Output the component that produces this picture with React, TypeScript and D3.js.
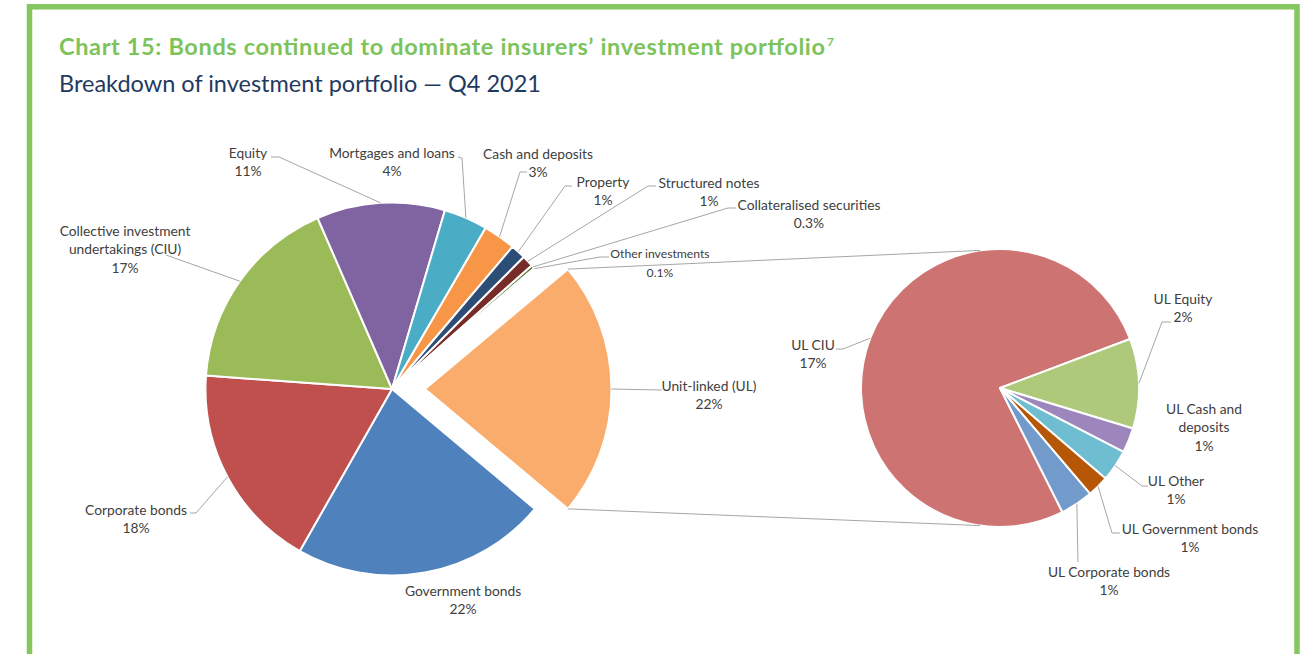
import * as d3 from 'd3';
import { useRef, useEffect } from 'react';

// Main pie, clockwise from the split-off slice
const mainCategories = [
  'Unit-linked (UL)',
  'Government bonds',
  'Corporate bonds',
  'Collective investment undertakings (CIU)',
  'Equity',
  'Mortgages and loans',
  'Cash and deposits',
  'Property',
  'Structured notes',
  'Collateralised securities',
  'Other investments',
];
const mainValues = [22.2, 22.1, 17.9, 17.3, 11.1, 3.8, 2.8, 1.3, 1.0, 0.3, 0.1];
const mainColors = [
  '#F9AC6B', '#4F81BD', '#C0504D', '#9BBB59', '#8064A2', '#4BACC6',
  '#F79646', '#2C4D75', '#772C2A', '#5F7530', '#4D3B62',
];

// Second pie: breakdown of unit-linked (share of total portfolio)
const ulCategories = [
  'UL CIU',
  'UL Equity',
  'UL Cash and deposits',
  'UL Other',
  'UL Government bonds',
  'UL Corporate bonds',
];
const ulValues = [16.9, 2.3, 0.64, 0.81, 0.55, 0.84];
const ulColors = ['#CD7371', '#AFC97A', '#9D86BC', '#6FBDD1', '#B65708', '#729ACA'];

const title = 'Chart 15: Bonds continued to dominate insurers\u2019 investment portfolio';
const subtitle = 'Breakdown of investment portfolio \u2014 Q4 2021';

// label placement: centre of first line, optional leader points (label side)
const labelLayout = {
  'Unit-linked (UL)': { x: 709, y: 386, leader: [[662, 390]] },
  'Government bonds': { x: 463, y: 591 },
  'Corporate bonds': { x: 136, y: 510, leader: [[190, 513], [196, 513]] },
  'Collective investment undertakings (CIU)': {
    x: 125, y: 231, lines: ['Collective investment', 'undertakings (CIU)'], leader: [[166, 255]],
  },
  'Equity': { x: 248, y: 153, leader: [[271, 157], [279, 157]] },
  'Mortgages and loans': { x: 392, y: 153, leader: [[458, 157], [462, 158]] },
  'Cash and deposits': { x: 538, y: 154, leader: [[527, 172], [520, 172]] },
  'Property': { x: 603, y: 182, leader: [[572, 186], [565, 186]] },
  'Structured notes': { x: 709, y: 183, leader: [[656, 186], [648, 186]] },
  'Collateralised securities': { x: 809, y: 205, leader: [[736, 208], [728, 208]] },
  'Other investments': { x: 660, y: 254, size: 12.2, leader: [[609, 257], [600, 257]] },
  'UL CIU': { x: 813, y: 345, leader: [[836, 349], [843, 349]], anchorDeg: 291 },
  'UL Equity': { x: 1183, y: 299, leader: [[1171, 322], [1162, 322]] },
  'UL Cash and deposits': { x: 1204, y: 409, lines: ['UL Cash and', 'deposits'] },
  'UL Other': { x: 1176, y: 481, leader: [[1148, 486], [1142, 486]] },
  'UL Government bonds': { x: 1190, y: 529, leader: [[1120, 533], [1112, 533]] },
  'UL Corporate bonds': { x: 1109, y: 572, leader: [[1078, 562]] },
};

const fmt = (v: number) => (v < 0.5 ? v.toFixed(1) : String(Math.round(v))) + '%';

function PieOfPie({ width = 1316, height = 654 }) {
  const svgRef = useRef<SVGSVGElement>(null);

  useEffect(() => {
    const svg = d3.select(svgRef.current).attr('width', width).attr('height', height);
    svg.selectAll('*').remove();

    const font = 'Lato, "Noto Sans", sans-serif';
    const textColor = '#404040';
    const leaderColor = '#A6A6A6';

    // frame
    svg.append('rect')
      .attr('x', 29.5).attr('y', 6.8)
      .attr('width', 1267.5).attr('height', 700)
      .attr('fill', 'none')
      .attr('stroke', '#86C65F')
      .attr('stroke-width', 5.5);

    svg.append('text')
      .attr('x', 59).attr('y', 55)
      .attr('font-family', font)
      .attr('font-weight', 700)
      .attr('font-size', 23.5)
      .attr('fill', '#7DC35B')
      .attr('textLength', 766)
      .attr('lengthAdjust', 'spacing')
      .text(title);
    svg.append('text')
      .attr('x', 827).attr('y', 46)
      .attr('font-family', font)
      .attr('font-weight', 700)
      .attr('font-size', 12)
      .attr('fill', '#7DC35B')
      .text('7');

    svg.append('text')
      .attr('x', 59).attr('y', 92)
      .attr('font-family', font)
      .attr('font-size', 23.5)
      .attr('fill', '#1F3A60')
      .text(subtitle);

    // ---- main pie
    const mainC = { x: 392, y: 389 };
    const mainR = 186.5;
    const explode = 33;
    const total = d3.sum(mainValues);
    const ulSpan = (mainValues[0] / total) * 2 * Math.PI;
    const start = Math.PI / 2 - ulSpan / 2;

    const mainPie = d3.pie<number>().sort(null).startAngle(start).endAngle(start + 2 * Math.PI);
    const mainArcs = mainPie(mainValues);
    const arc = d3.arc<d3.PieArcDatum<number>>().innerRadius(0).outerRadius(mainR);

    const offsetOf = (i: number) => {
      if (i !== 0) return [0, 0];
      const a = (mainArcs[0].startAngle + mainArcs[0].endAngle) / 2;
      return [explode * Math.sin(a), -explode * Math.cos(a)];
    };

    const gMain = svg.append('g').attr('transform', `translate(${mainC.x},${mainC.y})`);
    gMain.selectAll('path')
      .data(mainArcs)
      .enter()
      .append('path')
      .attr('transform', (d, i) => `translate(${offsetOf(i)[0]},${offsetOf(i)[1]})`)
      .attr('d', arc)
      .attr('fill', (d, i) => mainColors[i])
      .attr('stroke', '#fff')
      .attr('stroke-width', 2)
      .attr('stroke-linejoin', 'round');

    // ---- second pie
    const ulC = { x: 1000, y: 388 };
    const ulR = 139;
    const ulStart = (153.3 * Math.PI) / 180;
    const ulPie = d3.pie<number>().sort(null).startAngle(ulStart).endAngle(ulStart + 2 * Math.PI);
    const ulArcs = ulPie(ulValues);
    const ulArc = d3.arc<d3.PieArcDatum<number>>().innerRadius(0).outerRadius(ulR);

    const gUl = svg.append('g').attr('transform', `translate(${ulC.x},${ulC.y})`);
    gUl.selectAll('path')
      .data(ulArcs)
      .enter()
      .append('path')
      .attr('d', ulArc)
      .attr('fill', (d, i) => ulColors[i])
      .attr('stroke', '#fff')
      .attr('stroke-width', 2)
      .attr('stroke-linejoin', 'round');

    // ---- connector lines from split slice corners to the second pie
    const off = offsetOf(0);
    const corner = (a: number) => [
      mainC.x + off[0] + mainR * Math.sin(a),
      mainC.y + off[1] - mainR * Math.cos(a),
    ];
    const onUl = (deg: number) => {
      const a = (deg * Math.PI) / 180;
      return [ulC.x + ulR * Math.sin(a), ulC.y - ulR * Math.cos(a)];
    };
    const connectorDeg = 8.2;
    [
      [corner(mainArcs[0].startAngle), onUl(-connectorDeg)],
      [corner(mainArcs[0].endAngle), onUl(180 + connectorDeg)],
    ].forEach((seg) => {
      svg.append('line')
        .attr('x1', seg[0][0]).attr('y1', seg[0][1])
        .attr('x2', seg[1][0]).attr('y2', seg[1][1])
        .attr('stroke', leaderColor)
        .attr('stroke-width', 1);
    });

    // ---- labels
    const drawLabel = (name: string, value: number, arcD: d3.PieArcDatum<number>, c: { x: number, y: number }, r: number, o: number[]) => {
      const lay = labelLayout[name];
      const size = lay.size || 13.8;
      const lines = (lay.lines || [name]).concat([fmt(value)]);
      const g = svg.append('text')
        .attr('font-family', font)
        .attr('font-size', size)
        .attr('fill', textColor)
        .attr('text-anchor', 'middle');
      lines.forEach((ln, k) => {
        g.append('tspan')
          .attr('x', lay.x)
          .attr('y', lay.y + k * 18.3)
          .attr('dy', '0.36em')
          .text(ln);
      });
      if (lay.leader) {
        const a = lay.anchorDeg != null ? (lay.anchorDeg * Math.PI) / 180 : (arcD.startAngle + arcD.endAngle) / 2;
        const end = [c.x + o[0] + r * Math.sin(a), c.y + o[1] - r * Math.cos(a)];
        const pts = lay.leader.concat([end]);
        svg.append('path')
          .attr('d', d3.line()(pts as [number, number][]))
          .attr('fill', 'none')
          .attr('stroke', leaderColor)
          .attr('stroke-width', 1);
      }
    };

    mainArcs.forEach((d, i) => drawLabel(mainCategories[i], mainValues[i], d, mainC, mainR, offsetOf(i)));
    ulArcs.forEach((d, i) => drawLabel(ulCategories[i], ulValues[i], d, ulC, ulR, [0, 0]));
  }, [width, height]);

  return <svg ref={svgRef} style={{ position: 'absolute', left: 0, top: 0, background: '#fff' }}></svg>;
}

export default function App() {
  return <PieOfPie />;
}
